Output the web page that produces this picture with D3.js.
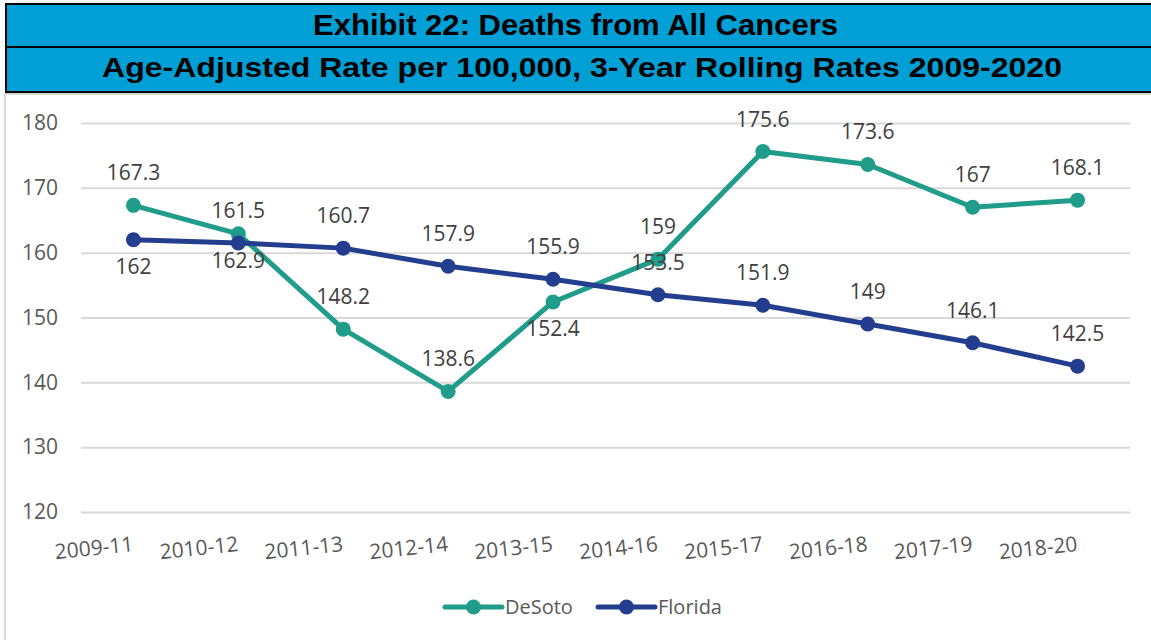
<!DOCTYPE html>
<html>
<head>
<meta charset="utf-8">
<script src="https://cdn.jsdelivr.net/npm/d3@7"></script>
<style>
  html, body { margin: 0; padding: 0; background: #fff; }
  svg { display: block; }
</style>
</head>
<body>
<div id="chart"></div>
<script>
// data
const periods = ["2009-11", "2010-12", "2011-13", "2012-14", "2013-15",
                 "2014-16", "2015-17", "2016-18", "2017-19", "2018-20"];
const desoto  = [167.3, 162.9, 148.2, 138.6, 152.4, 159, 175.6, 173.6, 167, 168.1];
const florida = [162, 161.5, 160.7, 157.9, 155.9, 153.5, 151.9, 149, 146.1, 142.5];
const yTicks  = [120, 130, 140, 150, 160, 170, 180];
const titleText    = "Exhibit 22: Deaths from All Cancers";
const subtitleText = "Age-Adjusted Rate per 100,000, 3-Year Rolling Rates 2009-2020";

var width = 1151;
var height = 640;
var plot = { left: 81, right: 1130, top: 123, bottom: 512 };

const svg = d3.select("#chart")
    .append("svg")
    .attr("width", width)
    .attr("height", height);

// chart frame (light grey, runs off the right and bottom edges)
svg.append("rect")
    .attr("x", 5).attr("y", 94)
    .attr("width", 1200).attr("height", 600)
    .attr("fill", "#fff")
    .attr("stroke", "#d9d9d9")
    .attr("stroke-width", 2);

// title bars
var bars = [
    { y: 4, h: 43, text: titleText, base: 35, len: 525, cx: 575.5, size: 30 },
    { y: 47, h: 45, text: subtitleText, base: 77, len: 960, cx: 582, size: 28 }
];
bars.forEach(function(b) {
    svg.append("rect")
        .attr("x", 6).attr("y", b.y)
        .attr("width", 1200).attr("height", b.h)
        .attr("fill", "#009fd6")
        .attr("stroke", "#000")
        .attr("stroke-width", 2);
    svg.append("text")
        .attr("x", b.cx).attr("y", b.base)
        .attr("text-anchor", "middle")
        .attr("font-family", "'Liberation Sans', Arial, sans-serif")
        .attr("font-weight", "bold")
        .attr("font-size", b.size)
        .attr("textLength", b.len)
        .attr("lengthAdjust", "spacingAndGlyphs")
        .attr("fill", "#000")
        .text(b.text);
});

var xScale = d3.scalePoint()
    .domain(periods)
    .range([plot.left, plot.right])
    .padding(0.5);

var yScale = d3.scaleLinear()
    .domain([120, 180])
    .range([plot.bottom, plot.top]);

var font = "'Open Sans', 'Noto Sans', sans-serif";

// gridlines + y labels
var yAxis = d3.axisLeft(yScale)
    .tickValues(yTicks)
    .tickSize(-(plot.right - plot.left))
    .tickPadding(23)
    .tickFormat(d3.format("d"));

var gy = svg.append("g")
    .attr("transform", "translate(" + plot.left + ",0)")
    .call(yAxis);
gy.select(".domain").remove();
gy.selectAll(".tick line")
    .attr("stroke", "#d9d9d9")
    .attr("stroke-width", 2);
gy.selectAll(".tick text")
    .attr("font-family", font)
    .attr("font-size", 21)
    .attr("fill", "#595959");

// x labels (slightly rotated, ending at the category)
var xAxis = d3.axisBottom(xScale).tickSize(0);
var gx = svg.append("g")
    .attr("transform", "translate(0," + plot.bottom + ")")
    .call(xAxis);
gx.select(".domain").remove();
gx.selectAll(".tick text")
    .attr("font-family", font)
    .attr("font-size", 21)
    .attr("fill", "#595959")
    .attr("text-anchor", "end")
    .attr("dy", null)
    .attr("y", 0)
    .attr("transform", "translate(0,39) rotate(-6)");

var series = [
    { name: "DeSoto", values: desoto, color: "#1f9c8a", below: [1, 4] },
    { name: "Florida", values: florida, color: "#233e8e", below: [0] }
];

var line = d3.line()
    .x(function(d, i) { return xScale(periods[i]); })
    .y(function(d) { return yScale(d); });

series.forEach(function(s) {
    svg.append("path")
        .attr("d", line(s.values))
        .attr("fill", "none")
        .attr("stroke", s.color)
        .attr("stroke-width", 5)
        .attr("stroke-linejoin", "round")
        .attr("stroke-linecap", "round");

    svg.append("g")
        .selectAll("circle")
        .data(s.values)
        .enter()
        .append("circle")
        .attr("cx", function(d, i) { return xScale(periods[i]); })
        .attr("cy", function(d) { return yScale(d); })
        .attr("r", 7.5)
        .attr("fill", s.color);
});

// data labels on top
series.forEach(function(s) {
    svg.append("g")
        .selectAll("text")
        .data(s.values)
        .enter()
        .append("text")
        .attr("x", function(d, i) { return xScale(periods[i]); })
        .attr("y", function(d, i) {
            return yScale(d) + (s.below.indexOf(i) > -1 ? 34 : -25);
        })
        .attr("text-anchor", "middle")
        .attr("font-family", font)
        .attr("font-size", 21)
        .attr("fill", "#404040")
        .text(function(d) { return d; });
});

// legend
var legend = [
    { name: "DeSoto", color: "#1f9c8a", x: 445 },
    { name: "Florida", color: "#233e8e", x: 598 }
];
legend.forEach(function(l) {
    var g = svg.append("g").attr("transform", "translate(" + l.x + ",607)");
    g.append("line")
        .attr("x1", 0).attr("x2", 57)
        .attr("stroke", l.color)
        .attr("stroke-width", 5)
        .attr("stroke-linecap", "round");
    g.append("circle")
        .attr("cx", 28.5).attr("r", 7.5)
        .attr("fill", l.color);
    g.append("text")
        .attr("x", 60).attr("y", 7)
        .attr("font-family", font)
        .attr("font-size", 20)
        .attr("fill", "#595959")
        .text(l.name);
});
</script>
</body>
</html>
